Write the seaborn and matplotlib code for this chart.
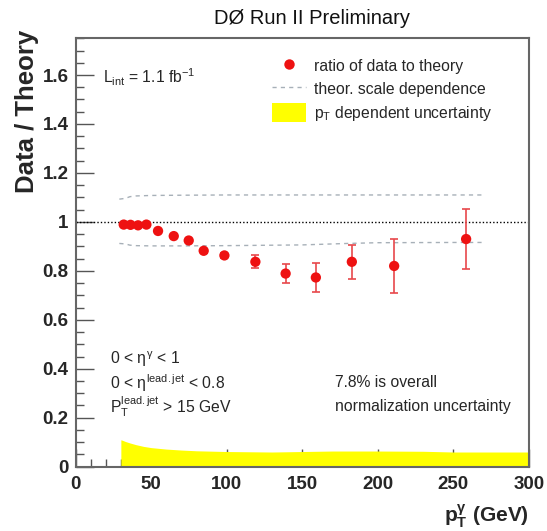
import numpy as np
import pandas as pd
import matplotlib
matplotlib.use("Agg")
import matplotlib.pyplot as plt
import seaborn as sns
from matplotlib.lines import Line2D
from matplotlib.patches import Patch
from matplotlib.ticker import MultipleLocator

# ---- data ----
pt = [31.9, 36.4, 41.4, 46.9, 54.6, 65.0, 74.9, 84.8, 98.5, 119.0, 139.0, 159.0, 182.8, 210.8, 258.4]
ratio = [0.989, 0.988, 0.986, 0.989, 0.963, 0.942, 0.924, 0.882, 0.863, 0.837, 0.789, 0.773, 0.837, 0.820, 0.930]
ratio_err = [0.004, 0.004, 0.004, 0.004, 0.005, 0.006, 0.007, 0.009, 0.011, 0.027, 0.040, 0.060, 0.070, 0.110, 0.124]

scale_x = [29, 33, 36, 40, 50, 70, 100, 150, 180, 200, 250, 269]
scale_up = [1.093, 1.096, 1.103, 1.106, 1.108, 1.109, 1.110, 1.110, 1.110, 1.110, 1.110, 1.110]
scale_lo = [0.912, 0.910, 0.905, 0.903, 0.902, 0.902, 0.903, 0.906, 0.912, 0.915, 0.916, 0.916]

band_x = [30, 31, 33, 36, 40, 45, 50, 60, 70, 80, 100, 130, 170, 200, 230, 250, 300]
band_h = [0.110, 0.108, 0.103, 0.097, 0.090, 0.083, 0.078, 0.072, 0.068, 0.065, 0.062, 0.060, 0.064, 0.064, 0.063, 0.060, 0.060]

xticks = [0, 50, 100, 150, 200, 250, 300]
yticks = [0, 0.2, 0.4, 0.6, 0.8, 1, 1.2, 1.4, 1.6]
ytick_labels = ["0", "0.2", "0.4", "0.6", "0.8", "1", "1.2", "1.4", "1.6"]

df = pd.DataFrame({"pt": pt, "ratio": ratio, "err": ratio_err})
df_up = pd.DataFrame({"pt": scale_x, "v": scale_up})
df_lo = pd.DataFrame({"pt": scale_x, "v": scale_lo})

sns.set_style("ticks")
plt.rcParams["font.family"] = ["Liberation Sans", "DejaVu Sans"]
plt.rcParams["mathtext.fontset"] = "custom"
plt.rcParams["mathtext.rm"] = "Liberation Sans"
plt.rcParams["mathtext.it"] = "Liberation Sans"
plt.rcParams["mathtext.bf"] = "Liberation Sans:bold"

fig = plt.figure(figsize=(5.47, 5.31), dpi=100)
ax = fig.add_axes([75.5 / 547, 1 - 466.7 / 531, (529 - 75.5) / 547, (466.7 - 38.3) / 531])

# yellow pT-dependent uncertainty band
ax.fill_between(band_x, 0, band_h, color="#ffff00", lw=0, zorder=1)

# reference line at 1
ax.axhline(1.0, color="black", lw=1.0, ls=(0, (1, 1.5)), zorder=2)

# theory scale dependence
dash_col = "#a7b0b8"
sns.lineplot(data=df_up, x="pt", y="v", ax=ax, color=dash_col, lw=1.0, ls=(0, (3, 3)), zorder=2)
sns.lineplot(data=df_lo, x="pt", y="v", ax=ax, color=dash_col, lw=1.0, ls=(0, (3, 3)), zorder=2)

# data points with errors
ax.errorbar(df["pt"], df["ratio"], yerr=df["err"], fmt="none", ecolor="#e8484c",
            elinewidth=1.2, capsize=3, capthick=1.2, zorder=3)
sns.scatterplot(data=df, x="pt", y="ratio", ax=ax, color="#ee1111", s=55,
                edgecolor="none", zorder=4)

ax.set_xlim(0, 300)
ax.set_ylim(0, 1.75)
ax.set_xticks(xticks)
ax.set_xticklabels([str(t) for t in xticks], fontweight="bold", fontsize=13.5)
ax.set_yticks(yticks)
ax.set_yticklabels(ytick_labels, fontweight="bold", fontsize=13.5)
ax.xaxis.set_minor_locator(MultipleLocator(10))
ax.yaxis.set_minor_locator(MultipleLocator(0.05))
ax.tick_params(axis="both", which="major", direction="in", length=13, width=1.0,
               color="#555555", pad=5)
ax.tick_params(axis="both", which="minor", direction="in", length=6, width=1.0,
               color="#555555")
ax.tick_params(axis="x", which="major", pad=7)
for s in ax.spines.values():
    s.set_color("#666666")
    s.set_linewidth(1.5)

ax.set_xlabel(r"$\mathbf{p_T^{\gamma}}$ (GeV)", fontsize=15, fontweight="bold")
ax.xaxis.set_label_coords(1.0, -0.083)
ax.xaxis.label.set_ha("right")
ax.xaxis.label.set_va("top")
ax.set_ylabel("Data / Theory", fontsize=18.5, fontweight="bold")
ax.yaxis.set_label_coords(-0.108, 1.02)
ax.yaxis.label.set_ha("right")
ax.yaxis.label.set_va("center")

fig.text(312 / 547, 1 - 18 / 531, "DØ Run II Preliminary", ha="center", va="center",
         fontsize=14.5, color="#111111")

fs = 11.3
ax.text(0.060, 0.91, r"L$_{\mathrm{int}}$ = 1.1 fb$^{\mathrm{-1}}$", transform=ax.transAxes,
        fontsize=fs, va="center")
ax.text(0.076, 0.252, r"0 < $\eta^{\gamma}$ < 1", transform=ax.transAxes, fontsize=fs, va="center")
ax.text(0.076, 0.196, r"0 < $\eta^{\mathrm{lead.jet}}$ < 0.8", transform=ax.transAxes, fontsize=fs, va="center")
ax.text(0.076, 0.140, r"P$_{\mathrm{T}}^{\mathrm{lead.jet}}$ > 15 GeV", transform=ax.transAxes, fontsize=fs, va="center")
ax.text(0.572, 0.196, "7.8% is overall", transform=ax.transAxes, fontsize=fs, va="center")
ax.text(0.572, 0.140, "normalization uncertainty", transform=ax.transAxes, fontsize=fs, va="center")

handles = [
    Line2D([], [], marker="o", color="none", markerfacecolor="#ee1111", markeredgecolor="none", markersize=7.5),
    Line2D([], [], color=dash_col, lw=1.0, ls=(0, (3, 3))),
    Patch(facecolor="#ffff00", edgecolor="none"),
]
labels = ["ratio of data to theory", "theor. scale dependence", r"p$_{\mathrm{T}}$ dependent uncertainty"]
fig.legend(handles, labels, loc="upper left", bbox_to_anchor=(264 / 547, 1 - 49 / 531),
           frameon=False, fontsize=fs, handlelength=2.2, handleheight=1.4,
           labelspacing=0.33, handletextpad=0.5, borderpad=0)

fig.savefig("out.png", dpi=100)
